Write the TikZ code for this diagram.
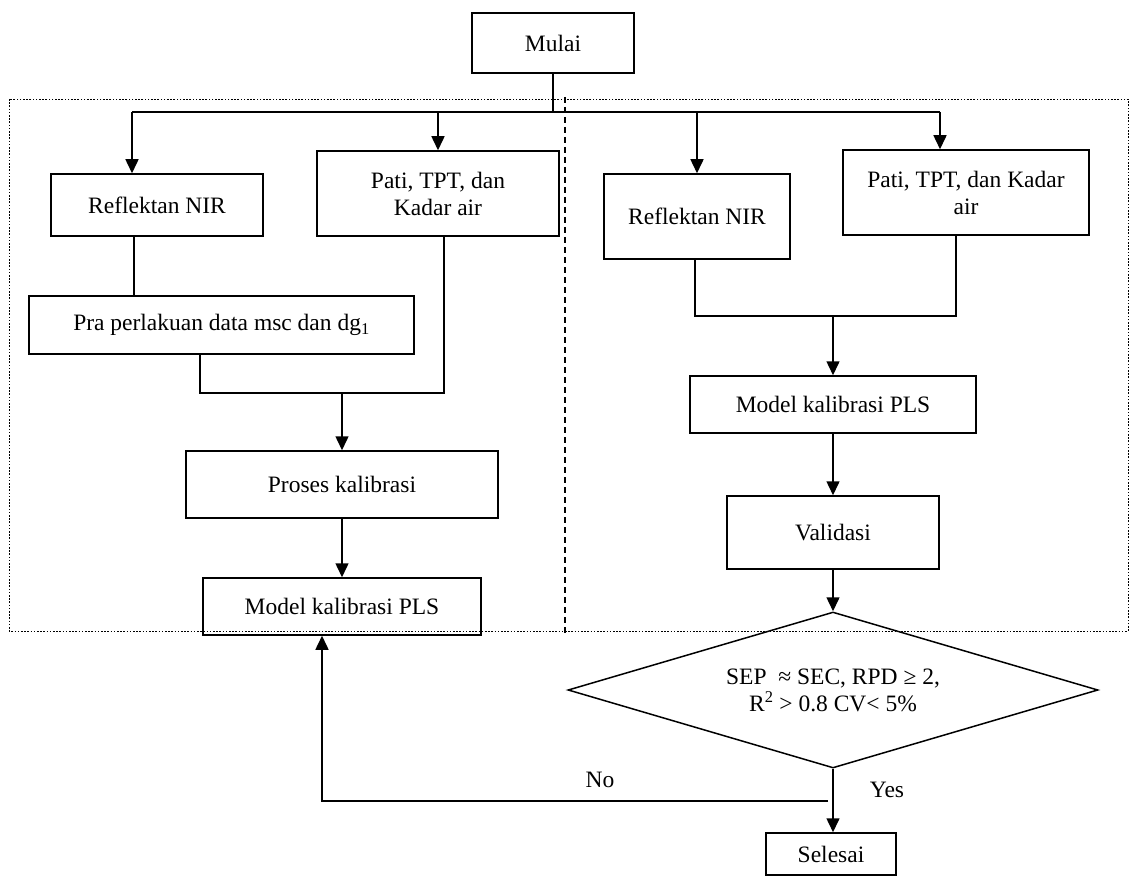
\documentclass[tikz,border=0pt]{standalone}
\usepackage{fontspec}
\setmainfont{Liberation Serif}
\usetikzlibrary{shapes.geometric,arrows.meta}
\begin{document}
\begin{tikzpicture}[x=1pt,y=-1pt,
  txt/.style={font=\fontsize{23.5}{27}\selectfont},
  box/.style={txt, draw, line width=1.5pt, rectangle, inner sep=0pt, align=center},
  arr/.style={line width=1.5pt, -{Triangle[length=14pt,width=13pt]}},
  ln/.style={line width=1.5pt},
  lbl/.style={txt, inner sep=0pt}]
\useasboundingbox (0,0) rectangle (1131,877);

% frames
\draw[line width=0.9pt, dash pattern=on 1.6pt off 1.6pt] (9,99) rectangle (1128,631);
\draw[line width=1.6pt, dash pattern=on 6pt off 4pt] (565,97) -- (565,633);

% nodes
\node[box, minimum width=162pt, minimum height=60pt] (mulai) at (553,43) {Mulai};
\node[box, minimum width=212pt, minimum height=62pt] (refL) at (157,205) {Reflektan NIR};
\node[box, minimum width=242pt, minimum height=85pt] (patiL) at (438,193.5) {Pati, TPT, dan\\Kadar air};
\node[box, minimum width=385pt, minimum height=58pt] (pra) at (221.5,325) {Pra perlakuan data msc dan dg\textsubscript{1}};
\node[box, minimum width=312pt, minimum height=67pt] (proses) at (342,484.5) {Proses kalibrasi};
\node[box, minimum width=278pt, minimum height=57pt] (modelL) at (342,606.5) {Model kalibrasi PLS};
\node[box, minimum width=186pt, minimum height=85pt] (refR) at (697,216.5) {Reflektan NIR};
\node[box, minimum width=246pt, minimum height=85pt] (patiR) at (966,192.5) {Pati, TPT, dan Kadar\\air};
\node[box, minimum width=286pt, minimum height=57pt] (modelR) at (833,404.5) {Model kalibrasi PLS};
\node[box, minimum width=212pt, minimum height=73pt] (valid) at (833,532.5) {Validasi};
\node[txt, draw, diamond, aspect=3.4, line width=1.5pt, inner sep=0pt,
      minimum width=530pt, minimum height=156pt, align=center] (dia) at (833,690)
      {SEP\ \ ≈ SEC, RPD ≥ 2,\\R\textsuperscript{2} > 0.8 CV< 5\%};
\node[box, minimum width=130pt, minimum height=42pt] (sel) at (831,854) {Selesai};
\node[lbl] (no) at (600,780) {No};
\node[lbl] (yes) at (887,790) {Yes};

% branch points
\coordinate (top) at (553,112);
\coordinate (bL) at (132,112);
\coordinate (bR) at (940,112);
\coordinate (cL1) at (200,393);
\coordinate (cL2) at (444,393);
\coordinate (cR1) at (695,316);
\coordinate (cR2) at (956,316);
\coordinate (nostart) at (828,801);
\coordinate (nocorner) at (322,801);

\draw[ln] (mulai.south) -- (top);
\draw[ln] (bL) -- (bR);
\draw[arr] (bL) -- (bL |- refL.north);
\draw[arr] (438,112) -- (patiL.north);
\draw[arr] (697,112) -- (refR.north);
\draw[arr] (bR) -- (bR |- patiR.north);

% left column
\draw[ln] (134,0 |- refL.south) -- (134,0 |- pra.north);
\draw[ln] (cL1 |- pra.south) -- (cL1) -- (cL2) -- (cL2 |- patiL.south);
\draw[arr] (proses.north |- cL1) -- (proses.north);
\draw[arr] (proses.south) -- (modelL.north);

% right column
\draw[ln] (cR1 |- refR.south) -- (cR1) -- (cR2) -- (cR2 |- patiR.south);
\draw[arr] (modelR.north |- cR1) -- (modelR.north);
\draw[arr] (modelR.south) -- (valid.north);
\draw[arr] (valid.south) -- (dia.north);
\draw[arr] (dia.south) -- (dia.south |- sel.north);

% loop back
\draw[arr] (nostart) -- (nocorner) -- (nocorner |- modelL.south);
\end{tikzpicture}
\end{document}
